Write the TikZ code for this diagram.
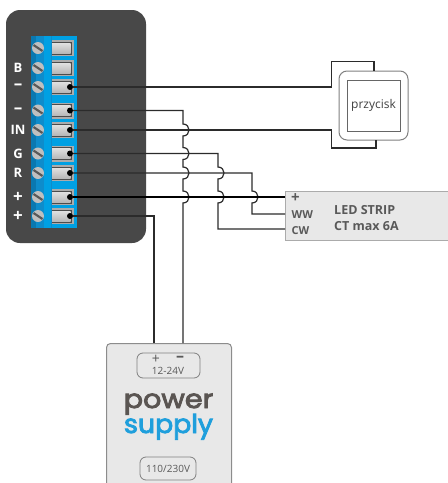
\documentclass[tikz,border=0pt]{standalone}
\usepackage{fontspec}
\setmainfont{Open Sans}
\newfontfamily\psfont[FakeBold=3.2]{Poppins}
\definecolor{panel}{HTML}{484848}
\definecolor{bluedark}{HTML}{0E8CCB}
\definecolor{bluelight}{HTML}{00A0E3}
\definecolor{stripe}{HTML}{0A78B0}
\definecolor{wirec}{HTML}{2B2B2B}
\definecolor{boxgray}{HTML}{E8E8E8}
\definecolor{edgegray}{HTML}{ABABAB}
\definecolor{pstext}{HTML}{5A5552}
\definecolor{psblue}{HTML}{1F9FDC}
\newcommand\hopat[2]{-- ({#1},{#2-6}) .. controls ({#1+8},{#2-6}) and ({#1+8},{#2+6}) .. ({#1},{#2+6})}
\tikzset{
  wire/.style={draw=wirec,line width=1.2pt,line join=miter},
  heavy/.style={draw=black,line width=1.9pt},
  termlabel/.style={text=white,font=\bfseries\fontsize{13}{13}\selectfont,inner sep=0pt},
  termsign/.style={text=white,font=\bfseries\fontsize{17}{17}\selectfont,inner sep=0pt},
  ledlabel/.style={text=black!65,font=\bfseries\fontsize{11}{12}\selectfont,inner sep=0pt,anchor=west},
  ledtitle/.style={text=black!65,font=\bfseries\fontsize{12.5}{13}\selectfont,inner sep=0pt,anchor=west},
  pill/.style={draw=black!50,line width=0.8pt,rounded corners=6pt,fill=boxgray},
  pilltext/.style={text=black!65,font=\fontsize{9.5}{10}\selectfont,inner sep=0pt},
  dotnode/.style={circle,fill=black,inner sep=0pt,minimum size=6pt},
  brand/.style={font=\psfont\fontsize{26}{26}\selectfont,inner sep=0pt,anchor=base},
}
\begin{document}
\begin{tikzpicture}[x=1pt,y=-1pt]
\useasboundingbox (0,0) rectangle (448,483);
% housing
\fill[panel,rounded corners=14pt] (6,10) rectangle (146,243);
\fill[bluedark] (31,36) rectangle (52,228);
\fill[bluelight] (52,36) rectangle (77,228);
\fill[stripe] (31,36) rectangle (36,228);
\fill[bluelight] (44,36) rectangle (51,228);
\foreach \yy in {48,68,87,110.5,130,153.5,173,197,216}{
  \fill[edgegray] (52,\yy-8) rectangle (74,\yy+8);
  \fill[black!70] (52,\yy-6.5) rectangle (72,\yy+6.5);
  \shade[top color=black!12,bottom color=black!28] (52,\yy-5) rectangle (70.5,\yy+5);
  \fill[black!25] (38,\yy) circle[radius=6];
  \draw[black!65,line width=2.2pt] (33.5,\yy-3) -- (42.5,\yy+3);
}
% terminal labels
\node[termlabel] (lb) at (18,68) {B};
\node[termsign] (lm1) at (18,86.5) {–};
\node[termsign] (lm2) at (18,110.5) {–};
\node[termlabel] (lin) at (18,130) {IN};
\node[termlabel] (lg) at (18,153.5) {G};
\node[termlabel] (lr) at (18,173) {R};
\node[termsign] (lp1) at (18,197) {+};
\node[termsign] (lp2) at (18,216) {+};
% terminal dots
\node[dotnode] (t1) at (70,87) {};
\node[dotnode] (t2) at (70,110.5) {};
\node[dotnode] (t3) at (70,130) {};
\node[dotnode] (t4) at (70,153.5) {};
\node[dotnode] (t5) at (70,173) {};
\node[dotnode] (t6) at (70,197) {};
\node[dotnode] (t7) at (70,216) {};
% button
\node[draw=black!50,line width=1pt,rounded corners=8pt,minimum width=69pt,minimum height=69pt,inner sep=0pt,fill=white] (btn) at (373.5,105.5) {};
\node[draw=black!60,line width=1pt,minimum width=53pt,minimum height=51pt,inner sep=0pt,fill=white,text=black!75,font=\fontsize{12}{12}\selectfont] (btnin) at (373.5,105.5) {przycisk};
% LED strip
\node[draw=edgegray,line width=1pt,fill=boxgray,minimum width=170pt,minimum height=49pt,inner sep=0pt,anchor=north west] (led) at (285,191) {};
\node[ledlabel,font=\bfseries\fontsize{15}{15}\selectfont] (ledp) at (291,198) {+};
\node[ledlabel] (ledww) at (291.5,214.5) {WW};
\node[ledlabel] (ledcw) at (291.5,230.5) {CW};
\node[ledtitle] (ledt) at (334,210) {LED STRIP};
\node[ledtitle] (ledc) at (334,226) {CT max 6A};
% power supply
\node[draw=black!45,line width=1pt,fill=boxgray,rounded corners=4pt,minimum width=125pt,minimum height=150pt,inner sep=0pt,anchor=north west] (ps) at (106,343) {};
\node[pill,minimum width=63pt,minimum height=25pt,inner sep=0pt] (pin) at (168.5,365.5) {};
\node[pilltext,font=\fontsize{14}{14}\selectfont] (psp) at (156,359) {+};
\node[pilltext,font=\bfseries\fontsize{16}{16}\selectfont] (psm) at (180,359) {–};
\node[pilltext,font=\fontsize{10}{10}\selectfont] (psv) at (168,371) {12-24V};
\node[brand,text=pstext] (pow) at (168.5,408) {\scalebox{1.1}[1]{power}};
\node[brand,text=psblue] (sup) at (168.5,433) {\scalebox{1.03}[1]{supply}};
\node[pill,minimum width=56pt,minimum height=23pt,inner sep=0pt] (pout) at (168,468.5) {};
\node[pilltext,font=\fontsize{10}{10}\selectfont] (psac) at (168,468.5) {110/230V};
% routing points
\coordinate (b1) at (331.5,87);
\coordinate (b2) at (331.5,61.5);
\coordinate (b3) at (374,61.5);
\coordinate (b4) at (374,71);
\coordinate (c1) at (331.5,130);
\coordinate (c2) at (331.5,148);
\coordinate (c3) at (376,148);
\coordinate (c4) at (376,140);
\coordinate (ledplus) at (285,197);
\coordinate (ledw) at (285,214);
\coordinate (ledc2) at (285,229);
\coordinate (psplus) at (154,343);
\coordinate (psminus) at (183,343);
% wires
\draw[wire,line width=1.5pt] (t1) -- (b1) -- (b2) -- (b3) -- (b4);
\draw[wire] (t3) -- (c1) -- (c2) -- (c3) -- (c4);
\draw[wire] (t7) -- (154,216) -- (psplus);
\draw[wire] (t2) -- (183,110.5) \hopat{183}{130} \hopat{183}{153.5} \hopat{183}{173} \hopat{183}{197} -- (psminus);
\draw[wire] (t4) -- (218,153.5) \hopat{218}{173} \hopat{218}{197} -- (218,229) -- (ledc2);
\draw[wire] (t5) -- (252,173) \hopat{252}{197} -- (252,214) -- (ledw);
\draw[heavy] (t6) -- (ledplus);
\end{tikzpicture}
\end{document}
